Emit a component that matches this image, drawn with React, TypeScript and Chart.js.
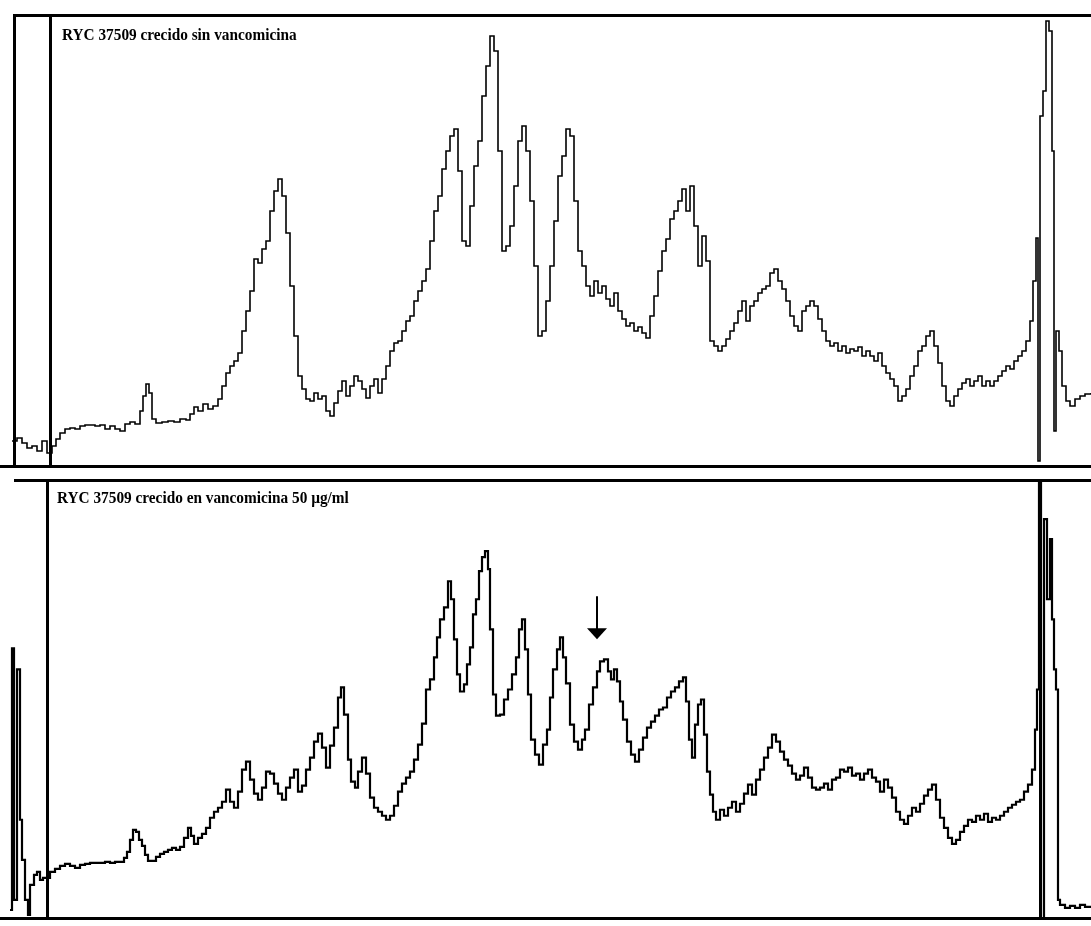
import React, { useEffect, useRef } from "react";
import { Chart, registerables } from "chart.js";

Chart.register(...registerables);

// Retention time (arbitrary units) vs detector signal (arbitrary units)
const topTitle = "RYC 37509 crecido sin vancomicina";
const bottomTitle = "RYC 37509 crecido en vancomicina 50 \u00b5g/ml";

const topTrace: [number, number][] = [
  [12, 27], [17, 30], [22, 25], [27, 20], [32, 22], [37, 17], [42, 27], [47, 15], [52, 22], [56, 29],
  [60, 35], [65, 39], [70, 40], [75, 39], [80, 42], [85, 43], [90, 43], [95, 42], [100, 43], [105, 39],
  [110, 42], [115, 39], [120, 37], [125, 44], [130, 46], [135, 44], [140, 57], [143, 72], [146, 84], [149, 75],
  [152, 49], [156, 45], [162, 46], [168, 47], [174, 46], [180, 49], [186, 48], [190, 54], [194, 61], [198, 57],
  [203, 64], [208, 59], [213, 62], [218, 69], [222, 82], [226, 95], [230, 102], [234, 107], [238, 115], [242, 137],
  [246, 157], [250, 177], [254, 209], [258, 205], [262, 219], [266, 227], [270, 257], [274, 277], [278, 289], [282, 272],
  [286, 235], [290, 182], [294, 132], [298, 92], [302, 79], [306, 69], [310, 67], [314, 75], [318, 69], [322, 72],
  [326, 57], [330, 52], [334, 65], [338, 77], [342, 87], [346, 72], [350, 82], [354, 92], [358, 87], [362, 79],
  [366, 70], [370, 82], [374, 89], [378, 75], [382, 89], [386, 102], [390, 117], [394, 125], [398, 127], [402, 137],
  [406, 147], [410, 152], [414, 167], [418, 177], [422, 187], [426, 199], [430, 227], [434, 257], [438, 272], [442, 299],
  [446, 317], [450, 332], [454, 339], [458, 297], [462, 227], [466, 222], [470, 262], [474, 302], [478, 327], [482, 372],
  [486, 402], [490, 432], [494, 417], [498, 317], [502, 217], [506, 222], [510, 242], [514, 282], [518, 327], [522, 342],
  [526, 317], [530, 267], [534, 202], [538, 132], [542, 137], [546, 167], [550, 202], [554, 247], [558, 292], [562, 312],
  [566, 339], [570, 332], [574, 267], [578, 217], [582, 202], [586, 182], [590, 172], [594, 187], [598, 175], [602, 182],
  [606, 169], [610, 162], [614, 175], [618, 157], [622, 149], [626, 142], [630, 145], [634, 137], [638, 141], [642, 135],
  [646, 130], [650, 152], [654, 172], [658, 197], [662, 217], [666, 229], [670, 249], [674, 257], [678, 267], [682, 279],
  [686, 257], [690, 282], [694, 242], [698, 202], [702, 232], [706, 207], [710, 127], [714, 122], [718, 117], [722, 122],
  [726, 129], [730, 137], [734, 145], [738, 157], [742, 167], [746, 147], [750, 162], [754, 167], [758, 175], [762, 179],
  [766, 182], [770, 195], [774, 199], [778, 187], [782, 179], [786, 167], [790, 152], [794, 142], [798, 137], [802, 157],
  [806, 162], [810, 167], [814, 162], [818, 149], [822, 137], [826, 127], [830, 122], [834, 125], [838, 117], [842, 122],
  [846, 115], [850, 119], [854, 117], [858, 121], [862, 112], [866, 117], [870, 112], [874, 107], [878, 115], [882, 102],
  [886, 95], [890, 89], [894, 82], [898, 67], [902, 72], [906, 79], [910, 92], [914, 102], [918, 117], [922, 122],
  [926, 132], [930, 137], [934, 122], [938, 105], [942, 82], [946, 67], [950, 62], [954, 72], [958, 79], [962, 85],
  [966, 89], [970, 82], [974, 87], [978, 92], [982, 82], [986, 87], [990, 82], [994, 87], [998, 92], [1002, 97],
  [1006, 102], [1010, 99], [1014, 107], [1018, 112], [1022, 117], [1026, 127], [1030, 147], [1033, 187], [1036, 230], [1038, 7],
  [1040, 352], [1043, 377], [1046, 447], [1049, 437], [1052, 317], [1054, 37], [1056, 137], [1059, 117], [1062, 82], [1066, 67],
  [1070, 62], [1075, 69], [1080, 72], [1085, 74], [1091, 75],
];

const bottomTrace: [number, number][] = [
  [10, 10], [12, 271], [14, 20], [17, 250], [20, 100], [22, 60], [25, 20], [28, 5], [30, 35], [34, 45],
  [37, 48], [40, 40], [43, 42], [50, 48], [55, 51], [60, 54], [65, 56], [70, 54], [75, 52], [80, 55],
  [85, 56], [90, 57], [95, 57], [100, 57], [105, 58], [110, 57], [115, 58], [120, 58], [124, 62], [127, 68],
  [130, 80], [133, 90], [136, 88], [139, 80], [142, 74], [145, 65], [148, 59], [152, 59], [156, 63], [160, 66],
  [164, 68], [168, 70], [172, 72], [176, 70], [180, 73], [184, 82], [188, 92], [191, 84], [194, 76], [198, 82],
  [202, 86], [206, 92], [210, 102], [214, 108], [218, 112], [222, 118], [226, 130], [230, 118], [234, 112], [238, 128],
  [242, 150], [246, 158], [250, 140], [254, 126], [258, 120], [262, 132], [266, 148], [270, 146], [274, 136], [278, 126],
  [282, 120], [286, 132], [290, 142], [294, 150], [298, 128], [302, 134], [306, 150], [310, 162], [314, 178], [318, 186],
  [322, 172], [326, 152], [330, 174], [334, 192], [338, 222], [341, 232], [344, 205], [348, 160], [351, 138], [355, 132],
  [358, 148], [362, 162], [366, 146], [370, 122], [374, 112], [378, 108], [382, 104], [386, 100], [390, 104], [394, 114],
  [398, 128], [402, 136], [406, 142], [410, 148], [414, 160], [418, 175], [422, 196], [426, 230], [430, 240], [434, 262],
  [437, 282], [440, 300], [444, 312], [448, 338], [451, 320], [454, 280], [457, 245], [460, 228], [464, 235], [467, 255],
  [470, 272], [473, 305], [476, 320], [479, 348], [482, 362], [485, 368], [488, 350], [490, 290], [493, 225], [496, 204],
  [500, 205], [504, 220], [508, 230], [512, 245], [516, 262], [519, 290], [522, 300], [525, 270], [528, 225], [531, 180],
  [535, 165], [539, 155], [543, 175], [547, 190], [550, 222], [553, 250], [557, 270], [560, 282], [563, 262], [566, 236],
  [570, 195], [574, 178], [578, 170], [582, 180], [585, 190], [589, 215], [593, 232], [597, 248], [600, 258], [604, 260],
  [608, 248], [611, 240], [614, 250], [617, 238], [620, 218], [623, 200], [627, 178], [631, 165], [635, 158], [639, 170],
  [643, 182], [647, 192], [651, 198], [655, 204], [659, 210], [663, 212], [667, 222], [671, 228], [675, 232], [679, 238],
  [683, 242], [686, 218], [689, 180], [692, 162], [695, 195], [698, 215], [701, 220], [704, 185], [707, 148], [710, 125],
  [713, 108], [716, 100], [720, 110], [724, 104], [728, 112], [732, 118], [736, 108], [740, 116], [744, 126], [748, 135],
  [752, 125], [756, 140], [760, 150], [764, 162], [768, 172], [772, 185], [776, 178], [780, 168], [784, 160], [788, 154],
  [792, 146], [796, 140], [800, 144], [804, 152], [808, 142], [812, 132], [816, 130], [820, 132], [824, 136], [828, 130],
  [832, 140], [836, 142], [840, 150], [844, 148], [848, 152], [852, 144], [856, 146], [860, 140], [864, 146], [868, 150],
  [872, 142], [876, 138], [880, 128], [884, 140], [888, 132], [892, 122], [896, 108], [900, 100], [904, 96], [908, 104],
  [912, 112], [916, 108], [920, 116], [924, 124], [928, 130], [932, 135], [936, 120], [940, 102], [944, 92], [948, 82],
  [952, 76], [956, 80], [960, 88], [964, 94], [968, 100], [972, 98], [976, 104], [980, 100], [984, 106], [988, 98],
  [992, 102], [996, 100], [1000, 104], [1004, 108], [1008, 112], [1012, 115], [1016, 118], [1020, 120], [1024, 128], [1028, 135],
  [1032, 150], [1035, 190], [1037, 230], [1039, 436], [1041, 2], [1044, 400], [1047, 320], [1050, 380], [1052, 300], [1054, 250],
  [1056, 230], [1058, 20], [1060, 15], [1065, 12], [1070, 14], [1075, 12], [1080, 15], [1085, 13], [1091, 14],
];

// full-height marker lines (injection / run markers), in time units
const topMarkers = [14, 50];
const bottomMarkers = [47, 1040];
// arrow annotation on the lower run: [time, signal at tail, signal at head]
const arrowNote = [597, 323, 280];

const X_MIN = 0;
const X_MAX = 1091;

const chromPlugin = {
  id: "chrom",
  afterDatasetsDraw(chart: any, _args: any, opts: any) {
    const { ctx, chartArea, scales } = chart;
    const { left, right, top, bottom } = chartArea;
    ctx.save();
    ctx.strokeStyle = "#000";
    // frame lines
    ctx.lineWidth = 3;
    ctx.beginPath();
    ctx.moveTo(opts.frameStart, top + 1.5);
    ctx.lineTo(right, top + 1.5);
    ctx.moveTo(left, bottom - 1.5);
    ctx.lineTo(right, bottom - 1.5);
    ctx.stroke();
    // markers
    ctx.lineWidth = 3;
    (opts.markers as number[]).forEach((m) => {
      const px = Math.round(scales.x.getPixelForValue(m)) + 0.5;
      ctx.beginPath();
      ctx.moveTo(px, top);
      ctx.lineTo(px, bottom);
      ctx.stroke();
    });
    // title (condensed bold serif, as in the scanned figure)
    ctx.fillStyle = "#000";
    ctx.font = "bold 17px 'Liberation Serif', 'Times New Roman', serif";
    ctx.textBaseline = "alphabetic";
    ctx.save();
    ctx.translate(opts.titleX, top + opts.titleY);
    ctx.scale(0.9, 1);
    ctx.fillText(opts.title, 0, 0);
    ctx.restore();
    // arrow
    if (opts.arrow) {
      const [t, v0, v1] = opts.arrow as number[];
      const ax = scales.x.getPixelForValue(t);
      const y0 = scales.y.getPixelForValue(v0);
      const y1 = scales.y.getPixelForValue(v1);
      ctx.lineWidth = 2;
      ctx.beginPath();
      ctx.moveTo(ax, y0);
      ctx.lineTo(ax, y1 - 8);
      ctx.stroke();
      ctx.beginPath();
      ctx.moveTo(ax - 10, y1 - 11);
      ctx.lineTo(ax + 10, y1 - 11);
      ctx.lineTo(ax, y1);
      ctx.closePath();
      ctx.fill();
    }
    ctx.restore();
  },
};

function Panel(props: {
  trace: [number, number][];
  markers: number[];
  title: string;
  yMax: number;
  height: number;
  top: number;
  lineWidth: number;
  titleX: number;
  titleY: number;
  frameStart: number;
  arrow?: number[];
}) {
  const ref = useRef<HTMLCanvasElement | null>(null);
  useEffect(() => {
    if (!ref.current) return;
    const chart = new Chart(ref.current, {
      type: "line",
      data: {
        datasets: [
          {
            data: props.trace.map(([x, y]) => ({ x, y })),
            borderColor: "#000",
            borderWidth: props.lineWidth,
            pointRadius: 0,
            stepped: true,
            fill: false,
          },
        ],
      },
      options: {
        responsive: false,
        animation: false,
        layout: { padding: 0 },
        plugins: {
          legend: { display: false },
          tooltip: { enabled: false },
          chrom: {
            markers: props.markers,
            title: props.title,
            titleX: props.titleX,
            titleY: props.titleY,
            frameStart: props.frameStart,
            arrow: props.arrow,
          },
        } as any,
        scales: {
          x: { type: "linear", min: X_MIN, max: X_MAX, display: false },
          y: { type: "linear", min: 0, max: props.yMax, display: false },
        },
      },
      plugins: [chromPlugin],
    });
    return () => chart.destroy();
  }, []);
  return (
    <canvas
      ref={ref}
      width={1091}
      height={props.height}
      style={{ position: "absolute", left: 0, top: props.top, width: 1091, height: props.height }}
    />
  );
}

export default function App() {
  return (
    <div style={{ position: "fixed", left: 0, top: 0, width: 1091, height: 926, background: "#fff", overflow: "hidden" }}>
      <Panel
        trace={topTrace}
        markers={topMarkers}
        title={topTitle}
        yMax={454}
        height={454}
        top={14}
        lineWidth={1.6}
        titleX={62}
        titleY={26}
        frameStart={14}
      />
      <Panel
        trace={bottomTrace}
        markers={bottomMarkers}
        title={bottomTitle}
        yMax={440}
        height={441}
        top={479}
        lineWidth={2.2}
        titleX={57}
        titleY={24}
        frameStart={14}
        arrow={arrowNote}
      />
    </div>
  );
}
